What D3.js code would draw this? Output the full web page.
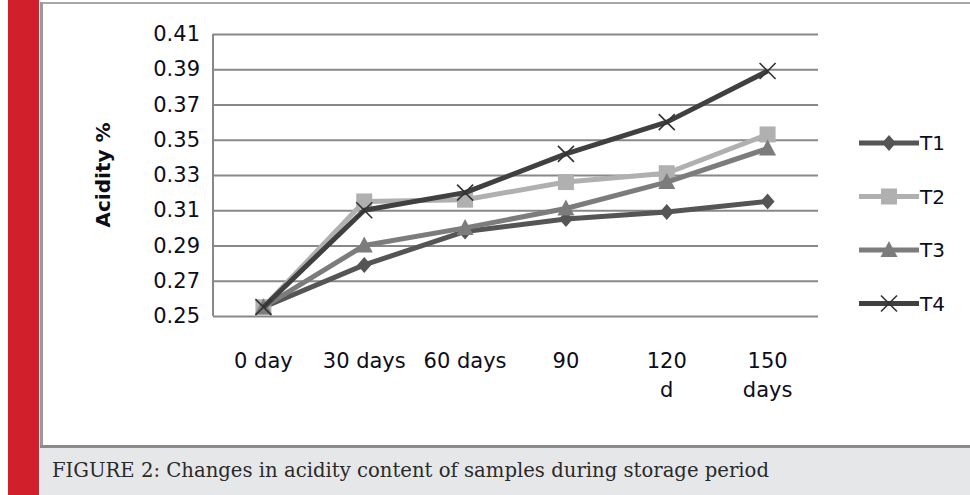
<!DOCTYPE html>
<html lang="en">
<head>
  <meta charset="UTF-8">
  <title>Acidity during storage</title>
  <script src="https://d3js.org/d3.v7.min.js"></script>
  <style>
    body { margin: 0; background: #fff; }
    svg { display: block; }
  </style>
</head>
<body>
  <script>
    // data
    const categories = ["0 day", "30 days", "60 days", "90", "120 d", "150 days"];
    const catLines = [["0 day"], ["30 days"], ["60 days"], ["90"], ["120", "d"], ["150", "days"]];
    const yTicks = [0.25, 0.27, 0.29, 0.31, 0.33, 0.35, 0.37, 0.39, 0.41];
    const seriesNames = ["T1", "T2", "T3", "T4"];
    const t1 = [0.255, 0.279, 0.298, 0.305, 0.309, 0.315];
    const t2 = [0.255, 0.315, 0.316, 0.326, 0.331, 0.353];
    const t3 = [0.255, 0.290, 0.300, 0.311, 0.326, 0.345];
    const t4 = [0.255, 0.310, 0.320, 0.342, 0.360, 0.389];

    const series = [
      { name: seriesNames[0], values: t1, color: "#555555", marker: "diamond" },
      { name: seriesNames[1], values: t2, color: "#b0b0b0", marker: "square" },
      { name: seriesNames[2], values: t3, color: "#7c7c7c", marker: "triangle" },
      { name: seriesNames[3], values: t4, color: "#404040", marker: "cross" }
    ];

    const W = 970, H = 495;
    const svg = d3.select("body").append("svg")
        .attr("width", W)
        .attr("height", H);

    // page furniture: red strip, frame, caption box
    svg.append("rect").attr("x", 8).attr("y", 0).attr("width", 31).attr("height", H).attr("fill", "#d11f2b");
    svg.append("rect").attr("x", 40).attr("y", 447).attr("width", W - 40).attr("height", H - 447).attr("fill", "#e6e7e9");
    svg.append("line").attr("x1", 40).attr("x2", W).attr("y1", 3).attr("y2", 3).attr("stroke", "#a8a8a8").attr("stroke-width", 2);
    svg.append("line").attr("x1", 41.5).attr("x2", 41.5).attr("y1", 2).attr("y2", 447).attr("stroke", "#9a9a9a").attr("stroke-width", 3);
    svg.append("line").attr("x1", 40).attr("x2", W).attr("y1", 446.5).attr("y2", 446.5).attr("stroke", "#8a8a8a").attr("stroke-width", 3);
    svg.append("text")
        .attr("x", 52).attr("y", 477)
        .attr("font-family", "DejaVu Serif")
        .attr("font-size", 19.5)
        .attr("textLength", 717)
        .attr("lengthAdjust", "spacingAndGlyphs")
        .attr("fill", "#2a2a2a")
        .text("FIGURE 2: Changes in acidity content of samples during storage period");

    // scales
    const x = d3.scaleBand().domain(categories).range([213, 818]);
    const y = d3.scaleLinear().domain([0.25, 0.41]).range([316, 34]);

    // y axis with gridlines
    const yAxis = svg.append("g")
        .attr("transform", "translate(213,0)")
        .call(d3.axisLeft(y).tickValues(yTicks).tickFormat(d3.format(".2f")).tickSize(-(818 - 213)).tickPadding(13));
    yAxis.select(".domain").remove();
    yAxis.selectAll(".tick line").attr("stroke", "#888").attr("stroke-width", 2);
    yAxis.selectAll(".tick text")
        .attr("font-family", "DejaVu Sans")
        .attr("font-size", 21)
        .attr("fill", "#0d0d1a");
    svg.append("line").attr("x1", 213).attr("x2", 213).attr("y1", 34).attr("y2", 316).attr("stroke", "#888").attr("stroke-width", 2);

    // x axis labels (wrapped as in the original)
    const xAxis = svg.append("g")
        .attr("transform", "translate(0,316)")
        .call(d3.axisBottom(x).tickSize(0).tickFormat(""));
    xAxis.select(".domain").remove();
    xAxis.selectAll(".tick").each(function(d, i) {
      const t = d3.select(this).append("text")
          .attr("text-anchor", "middle")
          .attr("font-family", "DejaVu Sans")
          .attr("font-size", 21)
          .attr("fill", "#0d0d1a");
      catLines[i].forEach((ln, j) => {
        t.append("tspan").attr("x", 0).attr("y", 52 + j * 29).text(ln);
      });
    });

    // axis title
    svg.append("text")
        .attr("transform", `translate(110,${(y(0.25) + y(0.41)) / 2}) rotate(-90)`)
        .attr("text-anchor", "middle")
        .attr("font-family", "DejaVu Sans")
        .attr("font-weight", "bold")
        .attr("font-size", 20)
        .attr("fill", "#0d0d1a")
        .text("Acidity %");

    // marker shapes
    function drawMarker(g, type, color) {
      if (type === "diamond") {
        g.append("path").attr("d", "M0,-8L7,0L0,8L-7,0Z").attr("fill", color);
      } else if (type === "square") {
        g.append("rect").attr("x", -8).attr("y", -8).attr("width", 16).attr("height", 16).attr("fill", color);
      } else if (type === "triangle") {
        g.append("path").attr("d", "M0,-9L8.5,7L-8.5,7Z").attr("fill", color);
      } else {
        g.append("path").attr("d", "M-8,-8L8,8M-8,8L8,-8").attr("stroke", "#333").attr("stroke-width", 1.6).attr("fill", "none");
      }
    }

    const line = d3.line()
        .x((d, i) => x(categories[i]) + x.bandwidth() / 2)
        .y(d => y(d));

    const sg = svg.selectAll("g.series")
        .data(series)
        .enter()
        .append("g")
        .attr("class", "series");

    sg.append("path")
        .attr("d", d => line(d.values))
        .attr("fill", "none")
        .attr("stroke", d => d.color)
        .attr("stroke-width", 5)
        .attr("stroke-linejoin", "round");

    sg.each(function(s) {
      const g = d3.select(this);
      s.values.forEach((v, i) => {
        const m = g.append("g")
            .attr("transform", `translate(${x(categories[i]) + x.bandwidth() / 2},${y(v)})`);
        drawMarker(m, s.marker, s.color);
      });
    });

    // legend
    const lg = svg.selectAll("g.legend")
        .data(series)
        .enter()
        .append("g")
        .attr("class", "legend")
        .attr("transform", (d, i) => `translate(859,${143 + i * 53.5})`);
    lg.append("line")
        .attr("x1", 0).attr("x2", 60)
        .attr("stroke", d => d.color)
        .attr("stroke-width", 5);
    lg.each(function(s) {
      const m = d3.select(this).append("g").attr("transform", "translate(30,0)");
      drawMarker(m, s.marker, s.color);
    });
    lg.append("text")
        .attr("x", 61).attr("y", 7)
        .attr("font-family", "DejaVu Sans")
        .attr("font-size", 20)
        .attr("fill", "#0d0d1a")
        .text(d => d.name);
  </script>
</body>
</html>
